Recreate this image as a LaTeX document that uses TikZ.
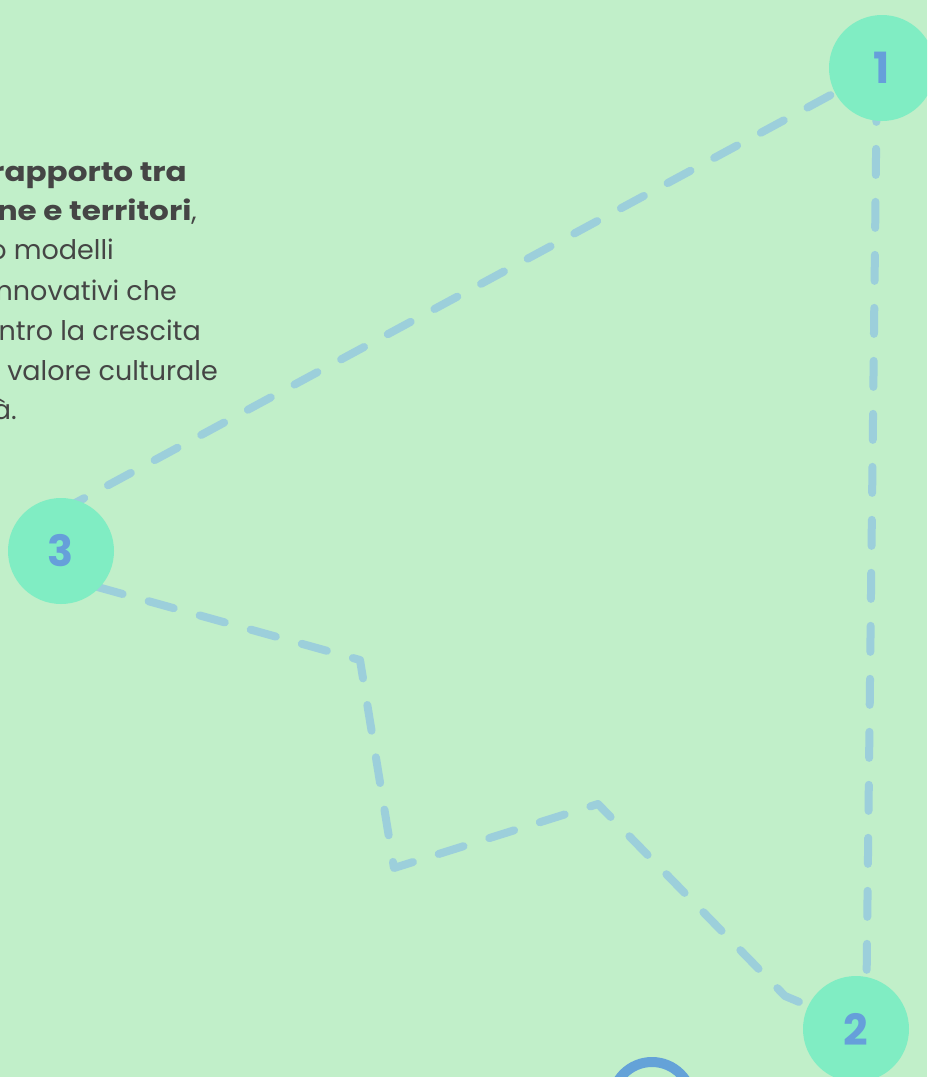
\documentclass[tikz,border=0pt]{standalone}
\usepackage{graphicx}
\usepackage{fontspec}
\setmainfont{Poppins}
\definecolor{paper}{HTML}{C1EFC9}
\definecolor{mint}{HTML}{80EDC3}
\definecolor{numblue}{HTML}{669FDA}
\definecolor{routeblue}{HTML}{9CCFDB}
\definecolor{ink}{HTML}{454545}
\definecolor{ringblue}{HTML}{64A2D8}
% wide bold for the highlighted words
\newcommand{\widebold}[1]{\scalebox{1.15}[1]{\bfseries #1}}
\begin{document}
\begin{tikzpicture}[x=1pt,y=-1pt,
  route/.style={draw=routeblue, line width=8pt, line cap=round, line join=round,
    dash pattern=on 26pt off 27pt},
  stopdot/.style={circle, fill=mint, minimum size=106pt, inner sep=0pt,
    text=numblue, font=\fontsize{43}{43}\selectfont\bfseries},
  bodyline/.style={anchor=base east, inner sep=0pt, text=ink,
    font=\fontsize{27}{30}\selectfont}]
\useasboundingbox (0,0) rectangle (927,1077);
\clip (0,0) rectangle (927,1077);
\fill[paper] (0,0) rectangle (927,1077);

% paragraph, running in from the left edge
\node[bodyline] (t1) at (187,181) {\widebold{rapporto tra}};
\node[bodyline] (t2) at (197,220) {\widebold{ne e territori},};
\node[bodyline] (t3) at (114,259) {o modelli};
\node[bodyline] (t4) at (177,300) {nnovativi che};
\node[bodyline] (t5) at (201,340) {ntro la crescita};
\node[bodyline] (t6) at (218,380) {valore culturale};
\node[bodyline] (t7) at (17,419) {à.};

% bends of the dashed route
\coordinate (b1) at (877,70);
\coordinate (b3a) at (40,522);
\coordinate (b3b) at (40,571);
\coordinate (k1) at (360,660);
\coordinate (k2) at (394,868);
\coordinate (k3) at (598,804);
\coordinate (k4) at (785,996);
\coordinate (b2) at (866,1030);
\draw[route] (b1) -- (b3a) -- (b3b) -- (k1) -- (k2) -- (k3) -- (k4) -- (b2) -- cycle;

% numbered stops
\node[stopdot] (s1) at (882,68) {1};
\node[stopdot] (s2) at (856,1029) {2};
\node[stopdot] (s3) at (61,551) {3};

% ring peeking in at the bottom
\node[circle, draw=ringblue, line width=10pt, minimum size=80pt, inner sep=0pt] (ring) at (652,1102) {};
\end{tikzpicture}
\end{document}
